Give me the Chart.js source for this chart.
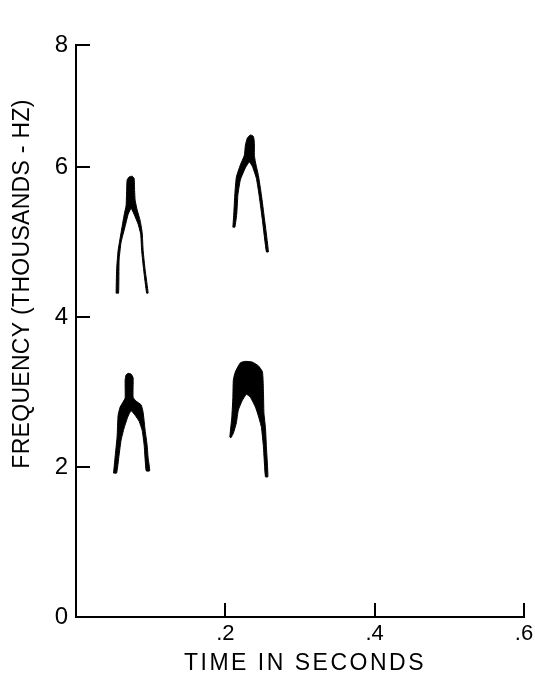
<!DOCTYPE html>
<html>
<head>
<meta charset="utf-8">
<script src="https://cdn.jsdelivr.net/npm/chart.js@4.4.1/dist/chart.umd.min.js"></script>
<style>
	html, body { margin: 0; padding: 0; background: #ffffff; }
	#wrap { width: 535px; height: 683px; }
</style>
</head>
<body>
<div id="wrap"><canvas id="spectro"></canvas></div>
<script>
// tick values and their labels (the top "8" tick sits a bit low on the original drawing)
const freqTicks = [0, 2, 4, 6, 7.63];
const freqTickLabels = ["0", "2", "4", "6", "8"];
const timeTicks = [0.2, 0.4, 0.6];
const timeTickLabels = [".2", ".4", ".6"];

// outlines of the four dark traces, [time in s, frequency in kHz]
// first call, upper harmonic
const upperFirst = [
	[0.0537, 4.32], [0.0544, 4.63], [0.0564, 4.89], [0.0604, 5.13], [0.0644, 5.36],
	[0.0671, 5.49], [0.0678, 5.69], [0.0685, 5.83], [0.0711, 5.87], [0.0752, 5.88],
	[0.0779, 5.85], [0.0785, 5.69], [0.0792, 5.56], [0.0819, 5.43], [0.0859, 5.29],
	[0.0886, 5.13], [0.0899, 4.89], [0.0926, 4.63], [0.0966, 4.32], [0.0946, 4.32],
	[0.0906, 4.63], [0.0879, 4.89], [0.0866, 5.11], [0.0832, 5.24], [0.0779, 5.37],
	[0.0738, 5.45], [0.0698, 5.37], [0.0658, 5.21], [0.0604, 5.0], [0.0577, 4.76],
	[0.057, 4.32], [0.0537, 4.32],
];
// second call, upper harmonic
const upperSecond = [
	[0.2101, 5.2], [0.2114, 5.39], [0.2128, 5.65], [0.2148, 5.87], [0.2201, 6.03],
	[0.2255, 6.16], [0.2268, 6.29], [0.2295, 6.39], [0.2336, 6.43], [0.2376, 6.41],
	[0.2389, 6.33], [0.2389, 6.16], [0.2403, 6.07], [0.2443, 5.89], [0.2483, 5.63],
	[0.2523, 5.32], [0.2577, 4.87], [0.255, 4.87], [0.2497, 5.29], [0.2456, 5.6],
	[0.2416, 5.85], [0.2362, 6.01], [0.2322, 6.07], [0.2268, 5.99], [0.2201, 5.83],
	[0.2168, 5.63], [0.2154, 5.39], [0.2128, 5.2], [0.2101, 5.2],
];
// first call, lower harmonic
const lowerFirst = [
	[0.0503, 1.92], [0.0523, 2.13], [0.055, 2.4], [0.0564, 2.69], [0.0591, 2.8],
	[0.0631, 2.87], [0.0658, 2.92], [0.0658, 3.16], [0.0671, 3.23], [0.0698, 3.25],
	[0.0738, 3.24], [0.0765, 3.19], [0.0765, 2.93], [0.0805, 2.88], [0.0872, 2.83],
	[0.0899, 2.73], [0.0926, 2.49], [0.0953, 2.29], [0.0966, 2.12], [0.0987, 1.95],
	[0.094, 1.95], [0.0913, 2.29], [0.0886, 2.49], [0.0846, 2.61], [0.0792, 2.69],
	[0.0738, 2.75], [0.0698, 2.68], [0.0644, 2.52], [0.0604, 2.36], [0.0577, 2.16],
	[0.0544, 1.92], [0.0503, 1.92],
];
// second call, lower harmonic
const lowerSecond = [
	[0.206, 2.4], [0.2087, 2.67], [0.2101, 2.93], [0.2107, 3.16], [0.2134, 3.27],
	[0.2201, 3.39], [0.2268, 3.41], [0.2362, 3.4], [0.2443, 3.35], [0.2497, 3.27],
	[0.251, 3.03], [0.2517, 2.72], [0.2537, 2.53], [0.255, 2.27], [0.257, 1.87],
	[0.2537, 1.87], [0.251, 2.27], [0.2483, 2.53], [0.2443, 2.68], [0.2403, 2.8],
	[0.2336, 2.93], [0.2282, 2.97], [0.2228, 2.89], [0.2174, 2.76], [0.2148, 2.59],
	[0.2107, 2.45], [0.2074, 2.39], [0.206, 2.4],
];

const fontFamily = "'Liberation Sans', Arial, Helvetica, sans-serif";

function traceDataset(outline) {
	return {
		data: outline.map((p) => ({ x: p[0], y: p[1] })),
		showLine: true,
		fill: "shape",
		backgroundColor: "#000000",
		borderColor: "#000000",
		borderWidth: 1,
		pointRadius: 0,
		tension: 0.15,
	};
}

// axis titles drawn by hand so the letter spacing can match
const axisTitles = {
	id: "axisTitles",
	afterDraw(chart) {
		const ctx = chart.ctx;
		const area = chart.chartArea;
		ctx.save();
		ctx.fillStyle = "#000000";
		ctx.textAlign = "center";
		ctx.textBaseline = "middle";
		ctx.font = "23px " + fontFamily;
		ctx.letterSpacing = "2.5px";
		ctx.fillText("TIME IN SECONDS", (area.left + area.right) / 2 + 5, 664);
		ctx.translate(23, 284);
		ctx.rotate(-Math.PI / 2);
		ctx.letterSpacing = "0.3px";
		ctx.fillText("FREQUENCY (THOUSANDS - HZ)", 0, 0);
		ctx.restore();
	},
};

const ctx = document.getElementById("spectro");
new Chart(ctx, {
	type: "scatter",
	data: {
		datasets: [
			traceDataset(upperFirst),
			traceDataset(upperSecond),
			traceDataset(lowerFirst),
			traceDataset(lowerSecond),
		],
	},
	options: {
		responsive: true,
		maintainAspectRatio: false,
		animation: false,
		layout: { padding: { top: 45, right: 11, left: 0, bottom: 0 } },
		plugins: {
			legend: { display: false },
			tooltip: { enabled: false },
		},
		scales: {
			x: {
				type: "linear",
				min: 0,
				max: 0.6,
				afterBuildTicks: (scale) => {
					scale.ticks = timeTicks.map((v) => ({ value: v }));
				},
				afterFit: (scale) => {
					scale.height = 66;
					scale.paddingLeft = 0;
					scale.paddingRight = 0;
				},
				ticks: {
					callback: (value, index) => timeTickLabels[index],
					color: "#000000",
					font: { size: 22, family: fontFamily },
					padding: 18,
					maxRotation: 0,
				},
				grid: {
					drawOnChartArea: false,
					drawTicks: true,
					tickLength: -14,
					color: "#000000",
					lineWidth: 2,
				},
				border: { color: "#000000", width: 2 },
			},
			y: {
				type: "linear",
				min: 0,
				max: 7.63,
				afterBuildTicks: (scale) => {
					scale.ticks = freqTicks.map((v) => ({ value: v }));
				},
				afterFit: (scale) => {
					scale.width = 76;
					scale.paddingTop = 0;
					scale.paddingBottom = 0;
				},
				ticks: {
					callback: (value, index) => freqTickLabels[index],
					color: "#000000",
					font: { size: 24, family: fontFamily },
					padding: 22,
				},
				grid: {
					drawOnChartArea: false,
					drawTicks: true,
					tickLength: -14,
					color: "#000000",
					lineWidth: 2,
				},
				border: { color: "#000000", width: 2 },
			},
		},
	},
	plugins: [axisTitles],
});
</script>
</body>
</html>
